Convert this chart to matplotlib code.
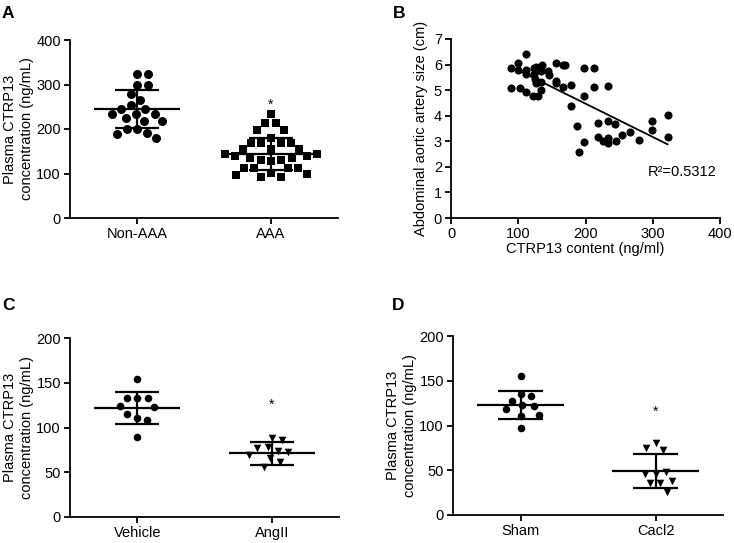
import numpy as np
import matplotlib
matplotlib.use("Agg")
import matplotlib.pyplot as plt

plt.rcParams['font.family'] = ['Liberation Sans', 'DejaVu Sans']
plt.rcParams['font.size'] = 10.5

# ---- data ----
# panel A
a_groups = ['Non-AAA', 'AAA']
a_non_aaa = [323, 323, 299, 299, 279, 265, 254, 245, 245, 234, 234, 234,
             225, 218, 218, 199, 199, 191, 189, 180]
a_aaa = [234, 213, 213, 198, 198, 179, 169, 169, 169, 169, 154, 154, 154,
         128, 131, 131, 135, 135, 139, 139, 144, 144,
         112, 112, 112, 112, 101, 99, 96, 93, 93]
a_mean = [245, 143.5]
a_sd = [43, 35.5]

# panel B
b_ctrp13 = [89, 89, 99, 99, 102, 112, 111, 112, 112, 123, 124, 125, 122, 129,
            126, 134, 136, 127, 134, 134, 144, 145, 156, 156, 156, 166, 169,
            166, 178, 178, 188, 190, 198, 198, 198, 212, 212, 218, 218, 226,
            233, 233, 233, 233, 244, 245, 255, 266, 280, 299, 299, 322, 322]
b_size = [5.86, 5.07, 6.07, 5.80, 5.10, 6.40, 5.79, 5.63, 4.94, 5.85, 5.62,
          5.43, 4.79, 4.79, 5.92, 5.75, 5.98, 5.27, 5.33, 5.00, 5.75, 5.59,
          6.08, 5.36, 5.27, 5.98, 5.98, 5.14, 5.20, 4.38, 3.58, 2.58, 5.85,
          4.77, 2.99, 5.85, 5.14, 3.71, 3.16, 3.03, 5.17, 3.81, 3.12, 2.93,
          3.68, 3.02, 3.25, 3.38, 3.06, 3.81, 3.45, 4.03, 3.16]
b_r2 = 'R\u00b2=0.5312'

# panel C
c_groups = ['Vehicle', 'AngII']
c_vehicle = [154, 132.5, 132.5, 132.5, 123, 124, 111, 115, 108, 89]
c_angii = [88.6, 86, 77.8, 76.7, 74, 73, 69, 65.5, 62, 56]
c_mean = [122, 71]
c_sd = [18, 12.7]

# panel D
d_groups = ['Sham', 'Cacl2']
d_sham = [155.7, 134.8, 133, 127.4, 122.9, 121.8, 118, 110.6, 111.7, 97.6]
d_cacl2 = [80.8, 72.6, 75.2, 45.8, 47.7, 45.8, 35.4, 35.4, 38.3, 26]
d_mean = [123, 49]
d_sd = [16, 19]

W, H = 734, 543
fig = plt.figure(figsize=(W / 100, H / 100), dpi=100)


def px_axes(left, top, right, bottom):
    return fig.add_axes([left / W, 1 - bottom / H, (right - left) / W, (bottom - top) / H])


def style(ax):
    for s in ['top', 'right']:
        ax.spines[s].set_visible(False)
    for s in ['left', 'bottom']:
        ax.spines[s].set_linewidth(1.3)
    ax.tick_params(direction='out', length=4.5, width=1.3, labelsize=10.5, pad=2)


def swarm(ypix, d):
    # simple beeswarm in pixel units
    xs = np.zeros(len(ypix))
    placed = []
    for k in range(len(ypix)):
        y = ypix[k]
        cands = [0.0]
        for j in placed:
            dy = abs(ypix[j] - y)
            if dy < d:
                dx = np.sqrt(d * d - dy * dy)
                cands += [xs[j] + dx, xs[j] - dx]
        cands.sort(key=abs)
        for c in cands:
            if all((xs[j] - c) ** 2 + (ypix[j] - y) ** 2 >= d * d - 1e-6 for j in placed):
                xs[k] = c
                break
        placed.append(k)
    return xs


def dot_plot(ax, groups, series, means, sds, markers, sizes, ymax, ystep, star_y):
    style(ax)
    n = len(groups)
    ax.set_xlim(-0.5, n - 0.5)
    ax.set_ylim(0, ymax)
    bb = ax.get_position()
    xpx = bb.width * W / n
    ypx = bb.height * H / ymax
    for i, vals in enumerate(series):
        vals = np.array(vals, dtype=float)
        offs = swarm(vals * ypx, 10.5)
        ax.scatter(i + offs / xpx, vals, marker=markers[i], s=sizes[i],
                   color='black', linewidths=0, zorder=3, clip_on=False)
        m, s = means[i], sds[i]
        ax.hlines(m, i - 0.32, i + 0.32, color='black', lw=1.6, zorder=4)
        ax.hlines([m - s, m + s], i - 0.165, i + 0.165, color='black', lw=1.6, zorder=4)
        ax.vlines(i, m - s, m + s, color='black', lw=1.6, zorder=4)
    ax.text(1, star_y, '*', ha='center', va='center', fontsize=10)
    ax.set_xticks(range(n))
    ax.set_xticklabels(groups)
    ax.set_yticks(np.arange(0, ymax + 1, ystep))
    ax.set_ylabel('Plasma CTRP13\nconcentration (ng/mL)', linespacing=1.25)
    ax.yaxis.set_label_coords(-0.135, 0.5)


# A
axA = px_axes(70, 40, 338, 218)
dot_plot(axA, a_groups, [a_non_aaa, a_aaa], a_mean, a_sd, ['o', 's'], [42, 32],
         400, 100, 254)

# B
axB = px_axes(451, 39, 720, 218)
style(axB)
axB.scatter(b_ctrp13, b_size, s=34, color='black', linewidths=0, zorder=3)
k, b0 = np.polyfit(b_ctrp13, b_size, 1)
xs = np.array([min(b_ctrp13), max(b_ctrp13)])
axB.plot(xs, k * xs + b0, color='black', lw=1.3)
axB.set_xlim(0, 400)
axB.set_ylim(0, 7)
axB.set_xticks(range(0, 401, 100))
axB.set_yticks(range(0, 8))
axB.set_xlabel('CTRP13 content (ng/ml)', labelpad=1)
axB.set_ylabel('Abdominal aortic artery size (cm)', labelpad=4)
axB.text(293, 1.8, b_r2, ha='left', va='center', fontsize=10.5)

# C
axC = px_axes(70, 338, 339, 517)
dot_plot(axC, c_groups, [c_vehicle, c_angii], c_mean, c_sd, ['o', 'v'], [30, 30],
         200, 50, 125)

# D
axD = px_axes(453, 336, 723, 515)
dot_plot(axD, d_groups, [d_sham, d_cacl2], d_mean, d_sd, ['o', 'v'], [30, 30],
         200, 50, 115)

for lab, x, y in [('A', 2, 6), ('B', 393, 6), ('C', 2, 298), ('D', 392, 298)]:
    fig.text(x / W, 1 - y / H, lab, fontsize=12.5, fontweight='bold', ha='left', va='top')

fig.savefig('out.png', dpi=100)
